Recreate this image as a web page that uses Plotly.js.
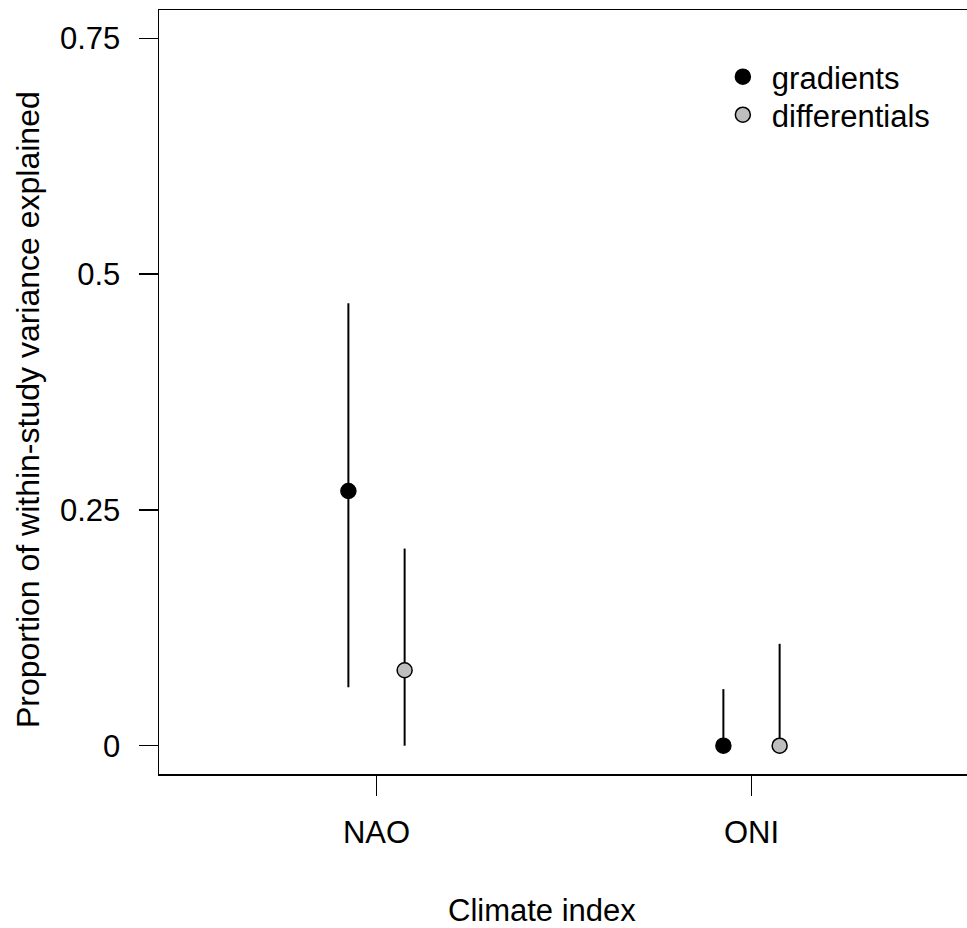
<!DOCTYPE html>
<html><head><meta charset="utf-8">
<script src="https://cdn.plot.ly/plotly-3.0.1.min.js"></script>
<style>html,body{margin:0;padding:0;overflow:hidden;background:#fff}</style>
</head><body><div id="chart" style="width:969px;height:928px"></div>
<script>
// Data
const categories = ['NAO', 'ONI'];
const gradEst = [0.270, 0.000];
const gradLo  = [0.062, 0.000];
const gradHi  = [0.469, 0.060];
const diffEst = [0.080, 0.000];
const diffLo  = [0.000, 0.000];
const diffHi  = [0.209, 0.108];
const yTickVals = [0, 0.25, 0.5, 0.75];
const yTickText = ['0', '0.25', '0.5', '0.75'];
const xTitle = 'Climate index';
const yTitle = 'Proportion of within-study variance explained';

const OFFSET = 0.075;
const FONT = 'Liberation Sans, Arial, Helvetica, sans-serif';
const pos = categories.map((c, i) => i + 1);

function trace(name, est, lo, hi, shift, fill, legendId) {
  return {
    type: 'scatter', mode: 'markers', name: name, legend: legendId,
    x: pos.map(p => p + shift), y: est,
    error_y: {type: 'data', symmetric: false,
      array: hi.map((h, i) => h - est[i]),
      arrayminus: lo.map((l, i) => est[i] - l),
      color: '#000', thickness: 2, width: 0},
    marker: {size: 15, color: fill, line: {color: '#000', width: 1.5}},
    hoverinfo: 'skip'
  };
}

const data = [
  trace('gradients', gradEst, gradLo, gradHi, -OFFSET, '#000000', 'legend'),
  trace('differentials', diffEst, diffLo, diffHi, OFFSET, '#bebebe', 'legend2')
];

const legendBase = {xanchor: 'left', yanchor: 'top', bgcolor: 'rgba(0,0,0,0)',
  font: {family: FONT, size: 31, color: '#000'}, itemwidth: 48};

const layout = {
  width: 969, height: 928,
  margin: {l: 159, r: 0, t: 10, b: 154},
  paper_bgcolor: '#fff', plot_bgcolor: '#fff',
  font: {family: FONT, size: 31, color: '#000'},
  showlegend: true,
  legend: Object.assign({x: 0.685, y: 0.9476}, legendBase),
  legend2: Object.assign({x: 0.685, y: 0.8979}, legendBase),
  xaxis: {
    range: [0.42, 2.58], tickvals: pos, ticktext: categories,
    ticks: 'outside', ticklen: 20, tickwidth: 1.5, tickcolor: '#000',
    showline: true, linewidth: 1.5, linecolor: '#000', mirror: true,
    showgrid: false, zeroline: false, automargin: false,
    ticklabelstandoff: 10,
    tickfont: {family: FONT, size: 31}
  },
  yaxis: {
    range: [-0.03, 0.78], tickvals: yTickVals, ticktext: yTickText,
    ticks: 'outside', ticklen: 19, tickwidth: 1.5, tickcolor: '#000',
    showline: true, linewidth: 1.5, linecolor: '#000', mirror: false,
    showgrid: false, zeroline: false, automargin: false,
    ticklabelstandoff: 12,
    tickfont: {family: FONT, size: 31}
  },
  annotations: [
    {text: xTitle, xref: 'paper', yref: 'paper', x: 0.4728, y: -0.1793,
     xanchor: 'center', yanchor: 'middle', showarrow: false,
     font: {family: FONT, size: 31, color: '#000'}},
    {text: yTitle, xref: 'paper', yref: 'paper', x: -0.1617, y: 0.4764,
     xanchor: 'center', yanchor: 'middle', showarrow: false, textangle: -90,
     font: {family: FONT, size: 32, color: '#000'}}
  ]
};

Plotly.newPlot('chart', data, layout, {displayModeBar: false, staticPlot: true});
</script></body></html>
